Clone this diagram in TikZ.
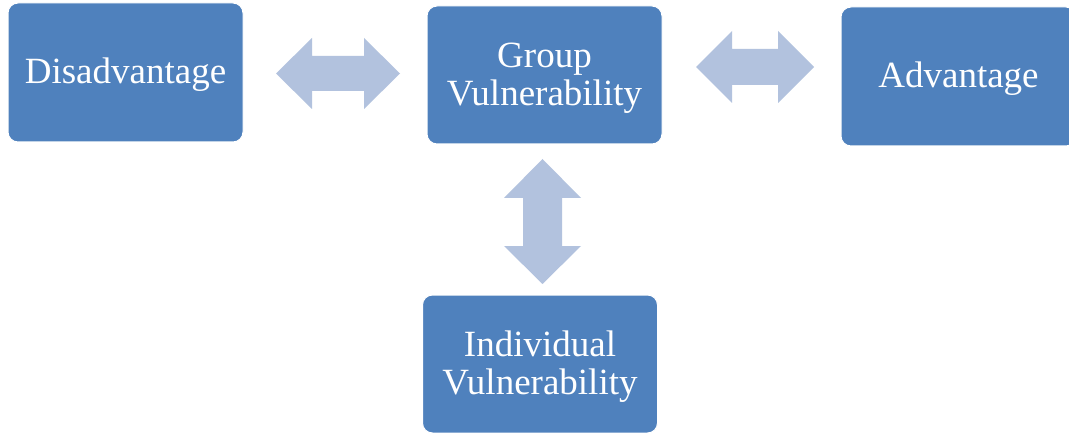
\documentclass[tikz,border=0pt]{standalone}
\usepackage{fontspec}
\setmainfont{Liberation Serif}
\definecolor{boxblue}{HTML}{4F81BD}
\definecolor{arrowblue}{HTML}{B2C2DE}
\tikzset{
  vbox/.style={fill=boxblue, draw=white, line width=1pt, rounded corners=10pt,
    minimum width=235pt, minimum height=138pt, inner sep=0pt},
  vtext/.style={inner sep=0pt, align=center, text=white,
    font=\fontsize{37}{38}\selectfont},
  arrowfill/.style={fill=arrowblue, draw=none}
}
\begin{document}
\begin{tikzpicture}[x=1pt,y=-1pt]
\clip (0,0) rectangle (1069,433);
\fill[white] (0,0) rectangle (1069,433);
\node[vbox, minimum height=139pt] (dis) at (125.5,72.5) {};
\node[vbox] (grp) at (544.5,75) {};
\node[vbox, minimum height=139pt] (adv) at (958.5,76.5) {};
\node[vbox] (ind) at (540,364) {};
\node[vtext] (dist) at ([yshift=-2.5pt]dis.center) {Disadvantage};
\node[vtext] (grpt) at ([yshift=-3pt]grp.center) {Group\\Vulnerability};
\node[vtext] (advt) at ([yshift=-2.5pt]adv.center) {Advantage};
\node[vtext] (indt) at ([yshift=-3pt]ind.center) {Individual\\Vulnerability};
% double arrows
\coordinate (la) at (338,73.5);
\coordinate (ra) at (755,67);
\coordinate (va) at (542.5,221.5);
\fill[arrowfill, shift={(la)}] (-62,0) -- (-26,-35.5) -- (-26,-17.5) -- (26,-17.5) -- (26,-35.5) -- (62,0)
  -- (26,35.5) -- (26,17.5) -- (-26,17.5) -- (-26,35.5) -- cycle;
\fill[arrowfill, shift={(ra)}] (-59,0) -- (-23,-36) -- (-23,-18) -- (23,-18) -- (23,-36) -- (59,0)
  -- (23,36) -- (23,18) -- (-23,18) -- (-23,36) -- cycle;
\fill[arrowfill, shift={(va)}] (0,-62.5) -- (38.5,-23.5) -- (19.5,-23.5) -- (19.5,24.5) -- (38.5,24.5) -- (0,62.5)
  -- (-38.5,24.5) -- (-19.5,24.5) -- (-19.5,-23.5) -- (-38.5,-23.5) -- cycle;
\end{tikzpicture}
\end{document}
